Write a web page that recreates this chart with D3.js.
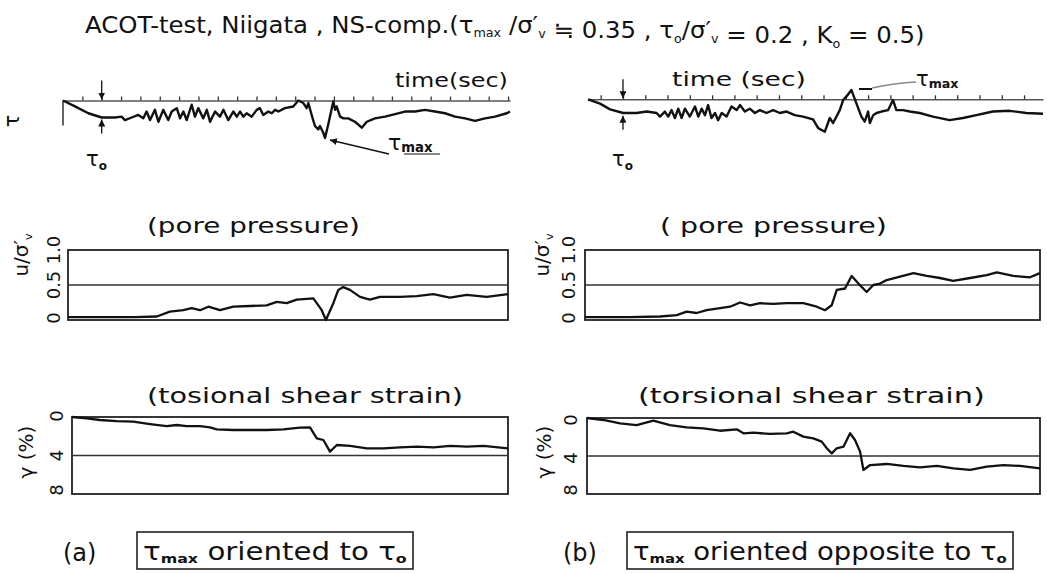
<!DOCTYPE html>
<html>
<head>
<meta charset="utf-8">
<script src="https://cdn.jsdelivr.net/npm/d3@7"></script>
<style>
  body { margin: 0; background: #fff; }
  text { font-family: "DejaVu Sans", sans-serif; fill: #111; }
</style>
</head>
<body>
<script>
// ---- data (time in s, tau/sigma'v, u/sigma'v, gamma in %) ----
var tauA = [[0,0],[0.62,0.07],[1.31,0.15],[2.0,0.2],[2.69,0.2],[3.03,0.19],[3.2,0.23],[3.55,0.2],
  [3.89,0.17],[4.15,0.21],[4.32,0.13],[4.5,0.23],[4.75,0.11],[4.93,0.25],[5.18,0.11],[5.44,0.23],
  [5.62,0.13],[5.88,0.09],[6.05,0.21],[6.22,0.13],[6.39,0.23],[6.65,0.05],[6.82,0.19],[6.99,0.09],
  [7.25,0.21],[7.43,0.11],[7.6,0.25],[7.86,0.13],[8.11,0.19],[8.29,0.11],[8.54,0.23],[8.8,0.13],
  [8.98,0.19],[9.15,0.13],[9.32,0.19],[9.49,0.15],[9.75,0.19],[10.01,0.11],[10.18,0.09],[10.35,0.17],
  [10.61,0.13],[10.79,0.15],[10.96,0.11],[11.13,0.13],[11.47,0.09],[11.9,0.07],[12.16,0],[12.42,0.03],
  [12.59,0.09],[12.68,0.03],[12.85,0.17],[13.02,0.3],[13.19,0.34],[13.28,0.3],[13.45,0.38],[13.54,0.44],
  [13.71,0.28],[13.97,0.01],[14.06,0.11],[14.14,0.07],[14.32,0.19],[14.49,0.21],[14.74,0.21],[15.09,0.25],
  [15.44,0.32],[15.7,0.25],[16.12,0.21],[16.64,0.19],[17.16,0.16],[17.67,0.13],[18.19,0.13],[18.71,0.11],
  [19.22,0.13],[19.74,0.15],[20.26,0.19],[20.78,0.21],[21.29,0.24],[21.81,0.21],[22.33,0.19],[22.93,0.15],[23.1,0.13]];

var tauB = [[0,0],[0.54,0.06],[0.99,0.14],[1.58,0.19],[2.18,0.19],[2.63,0.17],[3.08,0.19],[3.23,0.24],
  [3.45,0.17],[3.6,0.24],[3.75,0.15],[3.9,0.26],[4.05,0.13],[4.2,0.26],[4.35,0.13],[4.57,0.24],
  [4.8,0.1],[4.95,0.24],[5.1,0.13],[5.25,0.22],[5.39,0.08],[5.54,0.26],[5.7,0.19],[5.84,0.29],
  [6.0,0.19],[6.22,0.24],[6.44,0.1],[6.67,0.15],[6.82,0.08],[7.04,0.17],[7.26,0.13],[7.49,0.19],
  [7.71,0.15],[8.01,0.19],[8.31,0.15],[8.61,0.19],[8.91,0.17],[9.28,0.22],[9.65,0.24],[10.1,0.28],
  [10.33,0.4],[10.63,0.45],[10.85,0.26],[11.0,0.33],[11.3,0.15],[11.45,0.01],[11.6,-0.04],[11.82,-0.13],
  [12.05,0.06],[12.27,0.24],[12.42,0.31],[12.57,0.17],[12.65,0.33],[12.8,0.22],[12.95,0.19],[13.17,0.17],
  [13.47,0.15],[13.69,0.01],[13.84,0.15],[14.14,0.15],[14.44,0.17],[14.89,0.19],[15.48,0.24],[16.23,0.29],
  [16.83,0.26],[17.43,0.22],[18.17,0.17],[18.92,0.16],[19.67,0.19],[20.42,0.2]];

var poreA = [[0,0.04],[2.0,0.04],[3.5,0.04],[4.66,0.05],[5.35,0.12],[6.05,0.14],[6.49,0.17],[6.93,0.14],
  [7.37,0.19],[7.98,0.14],[8.68,0.19],[9.55,0.2],[10.43,0.21],[10.96,0.26],[11.48,0.24],[12.01,0.29],
  [12.88,0.31],[13.06,0.24],[13.32,0.14],[13.54,0.0],[13.93,0.24],[14.19,0.43],[14.45,0.47],[14.8,0.43],
  [15.33,0.33],[15.85,0.29],[16.38,0.33],[17.43,0.33],[18.3,0.34],[19.18,0.37],[20.05,0.32],[20.93,0.36],
  [21.98,0.33],[23.1,0.37]];

var poreB = [[0,0.04],[2.0,0.04],[3.37,0.05],[4.12,0.07],[4.56,0.12],[5.01,0.1],[5.46,0.14],[6.06,0.17],
  [6.51,0.19],[6.96,0.25],[7.41,0.21],[7.85,0.24],[8.45,0.23],[9.05,0.24],[9.8,0.24],[10.4,0.19],
  [10.77,0.14],[11.07,0.21],[11.3,0.43],[11.67,0.45],[11.97,0.63],[12.27,0.52],[12.64,0.4],[12.94,0.5],
  [13.24,0.52],[13.54,0.57],[14.14,0.62],[14.74,0.67],[15.34,0.63],[15.93,0.6],[16.53,0.56],[17.28,0.6],
  [18.03,0.64],[18.48,0.68],[19.22,0.63],[19.97,0.61],[20.42,0.67]];

var strainA = [[0,0],[0.78,0.14],[1.48,0.31],[2.37,0.42],[3.25,0.49],[4.13,0.73],[5.02,0.94],[5.55,0.83],
  [6.08,0.94],[6.78,0.94],[7.31,1.07],[7.67,1.28],[8.55,1.35],[9.43,1.35],[10.32,1.35],[11.2,1.28],
  [12.08,1.11],[12.61,1.07],[12.97,2.21],[13.32,2.39],[13.67,3.6],[14.03,2.91],[14.73,3.01],[15.62,3.25],
  [16.5,3.25],[17.38,3.15],[18.27,3.08],[19.15,3.15],[20.05,3.01],[20.92,3.08],[21.8,3.01],[23.1,3.25]];

var strainB = [[0,0],[0.74,0.21],[1.49,0.56],[2.24,0.74],[2.99,0.28],[3.74,0.74],[4.49,0.98],[5.24,1.09],
  [5.99,1.34],[6.75,1.19],[7.05,1.61],[7.5,1.54],[8.25,1.68],[9.0,1.61],[9.3,1.44],[9.75,1.96],
  [10.2,2.14],[10.58,2.49],[10.81,3.19],[11.03,3.72],[11.26,3.19],[11.56,3.02],[11.86,1.61],[12.08,2.32],
  [12.31,3.54],[12.46,5.47],[12.76,4.95],[13.51,4.84],[14.26,5.05],[15.01,5.19],[15.77,5.05],[16.52,5.3],
  [17.27,5.47],[18.02,5.12],[18.77,4.95],[19.52,5.05],[20.42,5.3]];

// time marks on the tau records
var timeTicksA = [1,2,3,4,5,6,7,8,9,10,11,12,13,14,15,16,17,18,19,20,21,22,23];
var timeTicksB = [0.57,1.57,2.57,3.57,4.57,5.57,6.57,7.57,8.57,9.57,10.57,11.57,12.57,13.57,14.57,15.57,16.57,17.57,18.57,19.57];
var tau0Time = { a: 2, b: 1.57 };
var poreTickLabels = ["0", "0.5", "1.0"];
var poreTickValues = [0, 0.5, 1];
var strainTickLabels = ["0", "4", "8"];
var strainTickValues = [0, 4, 8];

var W = 1047, H = 574;
var svg = d3.select("body").append("svg").attr("width", W).attr("height", H);

var defs = svg.append("defs");
defs.append("marker").attr("id", "ah")
  .attr("viewBox", "0 0 8 8").attr("refX", 8).attr("refY", 4)
  .attr("markerWidth", 7).attr("markerHeight", 7).attr("markerUnits", "userSpaceOnUse")
  .attr("orient", "auto")
  .append("path").attr("d", "M0,0L8,4L0,8z").attr("fill", "#111");

// ---- scales ----
var xTauA = d3.scaleLinear().domain([0, 23.1]).range([63, 510]);
var yTauA = d3.scaleLinear().domain([0, 0.5]).range([100.5, 143]);
var xTauB = d3.scaleLinear().domain([0, 20.42]).range([588, 1043]);
var yTauB = d3.scaleLinear().domain([0, 0.5]).range([99.3, 135.3]);

var xPoreA = d3.scaleLinear().domain([0, 23.1]).range([68, 508]);
var xPoreB = d3.scaleLinear().domain([0, 20.42]).range([585, 1040]);
var yPore = d3.scaleLinear().domain([0, 1]).range([320, 250]);

var xStrA = d3.scaleLinear().domain([0, 23.1]).range([72, 508]);
var xStrB = d3.scaleLinear().domain([0, 20.42]).range([587, 1040]);
var yStrA = d3.scaleLinear().domain([0, 8]).range([417, 494]);
var yStrB = d3.scaleLinear().domain([0, 8]).range([418, 494]);

function fitText(t, x0, x1) {
  var w = t.node().getBBox().width;
  t.attr("transform", "translate(" + x0 + ",0) scale(" + ((x1 - x0) / w) + ",1) translate(" + (-x0) + ",0)");
}

function drawLine(x, y, data, w) {
  svg.append("path").datum(data)
    .attr("fill", "none").attr("stroke", "#111").attr("stroke-width", w || 2.3)
    .attr("stroke-linejoin", "round")
    .attr("d", d3.line().x(function(d) { return x(d[0]); }).y(function(d) { return y(d[1]); }));
}

// sigma'_v written as sigma, prime, then subscript v (kept in flow so nothing overlaps)
function sigmaV(t, big, small) {
  t.append("tspan").attr("font-size", big).text("σ′");
  t.append("tspan").attr("font-size", small).attr("dy", 5).text("v");
  t.append("tspan").attr("font-size", big).attr("dy", -5).text("");
}

// ---- title ----
var title = svg.append("text").attr("x", 85).attr("y", 33).attr("font-size", 23);
title.append("tspan").text("ACOT-test, Niigata , NS-comp.(τ");
title.append("tspan").attr("font-size", 12).attr("dy", 4).text("max");
title.append("tspan").attr("dy", -4).text(" /");
sigmaV(title, 23, 12);
title.append("tspan").text(" ≒ 0.35 , τ");
title.append("tspan").attr("font-size", 12).attr("dy", 5).text("o");
title.append("tspan").attr("dy", -5).text("/");
sigmaV(title, 23, 12);
title.append("tspan").text(" = 0.2 , K");
title.append("tspan").attr("font-size", 12).attr("dy", 5).text("o");
title.append("tspan").attr("dy", -5).text(" = 0.5)");
fitText(title, 85, 925);

// ---- tau records ----
function tauPanel(x, y, ticks, t0, t0x) {
  svg.append("g").attr("transform", "translate(0," + y(0) + ")")
    .call(d3.axisTop(x).tickValues(ticks).tickSize(4).tickSizeOuter(0).tickFormat(""))
    .call(function(g) {
      g.select(".domain").attr("stroke", "#555").attr("stroke-width", 1.4);
      g.selectAll(".tick line").attr("stroke", "#333").attr("stroke-width", 1.3);
    });
  var xt = x(t0);
  svg.append("line").attr("x1", xt).attr("x2", xt).attr("y1", y(0) - 20).attr("y2", y(0) - 1)
    .attr("stroke", "#111").attr("stroke-width", 1.3).attr("marker-end", "url(#ah)");
  svg.append("line").attr("x1", xt).attr("x2", xt).attr("y1", y(0.2) + 16).attr("y2", y(0.2) + 2)
    .attr("stroke", "#111").attr("stroke-width", 1.3).attr("marker-end", "url(#ah)");
  var lab = svg.append("text").attr("x", t0x).attr("y", 166).attr("font-size", 21);
  lab.append("tspan").text("τ");
  lab.append("tspan").attr("font-size", 12).attr("dy", 4).attr("font-weight", "bold").text("o");
}

tauPanel(xTauA, yTauA, timeTicksA, tau0Time.a, 86);
tauPanel(xTauB, yTauB, timeTicksB, tau0Time.b, 612);

// left edge of record (a)
svg.append("line").attr("x1", xTauA(0)).attr("x2", xTauA(0))
  .attr("y1", yTauA(0)).attr("y2", yTauA(0) + 25).attr("stroke", "#111").attr("stroke-width", 1.3);

drawLine(xTauA, yTauA, tauA, 2.4);
drawLine(xTauB, yTauB, tauB, 2.4);

svg.append("text").attr("transform", "translate(19,121) rotate(-90)")
  .attr("text-anchor", "middle").attr("font-size", 21).text("τ");

var tl = svg.append("text").attr("x", 395).attr("y", 87).attr("font-size", 20).text("time(sec)");
fitText(tl, 395, 508);
var tr = svg.append("text").attr("x", 672).attr("y", 86).attr("font-size", 20).attr("fill", "#333").text("time (sec)");
fitText(tr, 672, 806);

// tau_max annotations
function tauMax(x, y, size) {
  var t = svg.append("text").attr("x", x).attr("y", y).attr("font-size", size);
  t.append("tspan").text("τ");
  t.append("tspan").attr("font-size", size * 0.6).attr("dy", 2).attr("font-weight", "bold").text("max");
  return t;
}
tauMax(388, 150, 22);
svg.append("line").attr("x1", 404).attr("x2", 440).attr("y1", 154).attr("y2", 154)
  .attr("stroke", "#111").attr("stroke-width", 1.2);
svg.append("line").attr("x1", 389).attr("x2", 330).attr("y1", 154).attr("y2", 140)
  .attr("stroke", "#111").attr("stroke-width", 1.3).attr("marker-end", "url(#ah)");

tauMax(916, 86, 21);
svg.append("line").attr("x1", 859).attr("x2", 872).attr("y1", 89).attr("y2", 89)
  .attr("stroke", "#111").attr("stroke-width", 2);
svg.append("path").attr("d", "M872,88 Q895,83 916,82")
  .attr("fill", "none").attr("stroke", "#888").attr("stroke-width", 1.3);

// ---- box panels ----
function boxPanel(x, y, refVal, title, tx0, tx1, ty) {
  var x0 = x.range()[0], x1 = x.range()[1];
  var yr = y.range();
  var top = Math.min(yr[0], yr[1]), bot = Math.max(yr[0], yr[1]);
  svg.append("rect").attr("x", x0).attr("y", top).attr("width", x1 - x0).attr("height", bot - top)
    .attr("fill", "none").attr("stroke", "#222").attr("stroke-width", 1.8);
  svg.append("line").attr("x1", x0).attr("x2", x1).attr("y1", y(refVal)).attr("y2", y(refVal))
    .attr("stroke", "#333").attr("stroke-width", 1.7);
  var t = svg.append("text").attr("x", tx0).attr("y", ty).attr("font-size", 22).text(title);
  fitText(t, tx0, tx1);
}

boxPanel(xPoreA, yPore, 0.5, "(pore pressure)", 147, 360, 233);
boxPanel(xPoreB, yPore, 0.5, "( pore pressure)", 660, 887, 233);
boxPanel(xStrA, yStrA, 4, "(tosional shear strain)", 147, 463, 403);
boxPanel(xStrB, yStrB, 4, "(torsional shear strain)", 638, 985, 403);

drawLine(xPoreA, yPore, poreA);
drawLine(xPoreB, yPore, poreB);
drawLine(xStrA, yStrA, strainA);
drawLine(xStrB, yStrB, strainB);

// rotated tick labels, centred on their values
function vTicks(y, vals, labels, cx, shift) {
  svg.selectAll(null).data(vals).enter().append("text")
    .attr("transform", function(d, i) { return "translate(" + cx + "," + (y(d) + shift[i]) + ") rotate(-90)"; })
    .attr("text-anchor", "middle").attr("dy", "0.35em").attr("font-size", 18)
    .text(function(d, i) { return labels[i]; });
}
vTicks(yPore, poreTickValues, poreTickLabels, 54, [-2, 0, 0]);
vTicks(yPore, poreTickValues, poreTickLabels, 569, [-2, 0, 0]);
vTicks(yStrA, strainTickValues, strainTickLabels, 57, [-1, 0, -4]);
vTicks(yStrB, strainTickValues, strainTickLabels, 571, [2, 2, -4]);

function uLabel(cx, cy) {
  var t = svg.append("text").attr("transform", "translate(" + cx + "," + cy + ") rotate(-90)")
    .attr("text-anchor", "middle").attr("font-size", 20);
  t.append("tspan").text("u/σ′");
  t.append("tspan").attr("font-size", 11).attr("dy", 4).text("v");
}
uLabel(28, 255);
uLabel(549, 255);

function gLabel(cx, cy) {
  svg.append("text").attr("transform", "translate(" + cx + "," + cy + ") rotate(-90)")
    .attr("text-anchor", "middle").attr("dy", "0.35em").attr("font-size", 20).text("γ (%)");
}
gLabel(26, 452);
gLabel(544, 452);

// ---- captions ----
function caption(lx, label, bx0, bx1, words) {
  svg.append("text").attr("x", lx).attr("y", 561).attr("font-size", 24).text(label);
  svg.append("rect").attr("x", bx0).attr("y", 532).attr("width", bx1 - bx0).attr("height", 37)
    .attr("fill", "none").attr("stroke", "#222").attr("stroke-width", 1.6);
  var t = svg.append("text").attr("x", bx0 + 6).attr("y", 560).attr("font-size", 24);
  t.append("tspan").text("τ");
  t.append("tspan").attr("font-size", 13).attr("dy", 3).attr("font-weight", "bold").text("max");
  t.append("tspan").attr("dy", -3).text(" " + words + " τ");
  t.append("tspan").attr("font-size", 13).attr("dy", 3).attr("font-weight", "bold").text("o");
  fitText(t, bx0 + 6, bx1 - 6);
}
caption(63, "(a)", 137, 413, "oriented to");
caption(563, "(b)", 627, 1013, "oriented opposite to");
</script>
</body>
</html>
